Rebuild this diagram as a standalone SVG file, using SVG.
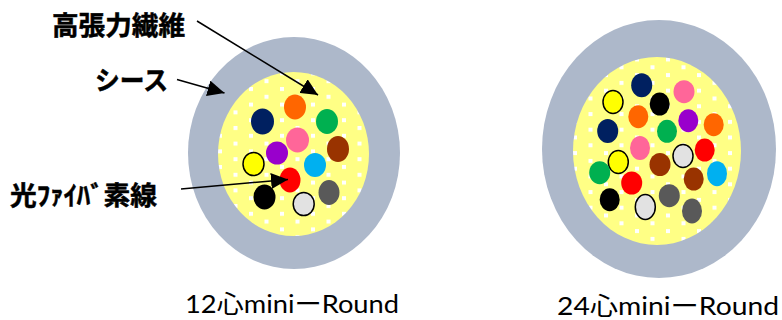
<svg xmlns="http://www.w3.org/2000/svg" width="782" height="320" viewBox="0 0 782 320">
<style>
.sheath{fill:#adb8ca}
.lbl{font-family:"Noto Sans CJK JP","Noto Sans",sans-serif;font-weight:700;font-size:26.5px;fill:#000;stroke:#000;stroke-width:.5}
.cap{font-family:Lato,"Noto Sans CJK JP",sans-serif;font-size:25.5px;fill:#000}
.ln{stroke:#000;stroke-width:1.5;fill:none;marker-end:url(#ah)}
.o{stroke:#000;stroke-width:1.5}
</style>
<defs>
<marker id="ah" markerUnits="userSpaceOnUse" markerWidth="17" markerHeight="16" refX="17" refY="8" orient="auto"><path d="M0 0L17 8L0 16Z" fill="#000"/></marker>
<pattern id="d1" patternUnits="userSpaceOnUse" x="280" y="87" width="31" height="15.6"><rect width="31" height="15.6" fill="#ffff85"/><rect width="4" height="4" fill="#fff"/><rect x="15.5" y="7.8" width="4" height="4" fill="#fff"/></pattern>
<pattern id="d2" patternUnits="userSpaceOnUse" x="666" y="57.5" width="31" height="15.6"><rect width="31" height="15.6" fill="#ffff85"/><rect width="4" height="4" fill="#fff"/><rect x="15.5" y="7.8" width="4" height="4" fill="#fff"/></pattern>
</defs>
<g id="cable-12">
<ellipse class="sheath" cx="294" cy="153" rx="106" ry="116"/>
<ellipse cx="293.5" cy="154" rx="75.5" ry="82" fill="url(#d1)"/>
<ellipse cx="295" cy="107" rx="11" ry="12.5" fill="#ff6600"/>
<ellipse cx="262.5" cy="121.5" rx="11.5" ry="13" fill="#002060"/>
<ellipse cx="327" cy="121.5" rx="11" ry="12.5" fill="#00b050"/>
<ellipse cx="297.5" cy="140" rx="11.5" ry="12.5" fill="#ff6699"/>
<ellipse cx="338" cy="149" rx="11" ry="13" fill="#993300"/>
<ellipse cx="277" cy="153" rx="11" ry="11.5" fill="#9900cc"/>
<ellipse class="o" cx="253.5" cy="164" rx="10.5" ry="11.5" fill="#ffff00"/>
<ellipse cx="315" cy="165" rx="11" ry="12" fill="#00b0f0"/>
<ellipse cx="290" cy="180" rx="10.5" ry="12.5" fill="#ff0000"/>
<ellipse cx="264.5" cy="197" rx="11" ry="12.5" fill="#000"/>
<ellipse class="o" cx="303.7" cy="204" rx="10.5" ry="11.5" fill="#e2e2e2"/>
<ellipse cx="329" cy="192.5" rx="10.5" ry="12.5" fill="#595959"/>
</g>
<g id="cable-24">
<ellipse class="sheath" cx="659" cy="149" rx="117" ry="129"/>
<ellipse cx="657" cy="151" rx="84" ry="94" fill="url(#d2)"/>
<ellipse cx="641.7" cy="85.3" rx="10.5" ry="12" fill="#002060"/>
<ellipse cx="684" cy="91.7" rx="10.5" ry="11.5" fill="#ff6699"/>
<ellipse class="o" cx="613" cy="102" rx="10" ry="11.5" fill="#ffff00"/>
<ellipse cx="659.7" cy="104" rx="10" ry="11.5" fill="#000"/>
<ellipse cx="638.3" cy="116.7" rx="10" ry="11.5" fill="#ff6600"/>
<ellipse cx="688.3" cy="120.7" rx="10" ry="11.5" fill="#9900cc"/>
<ellipse cx="713.7" cy="124.7" rx="10" ry="11.5" fill="#ff6600"/>
<ellipse cx="607.7" cy="131" rx="10.5" ry="12" fill="#002060"/>
<ellipse cx="667" cy="131.3" rx="10" ry="11.5" fill="#00b050"/>
<ellipse cx="640" cy="148" rx="10" ry="12" fill="#ff6699"/>
<ellipse cx="704.7" cy="150" rx="10" ry="11.5" fill="#ff0000"/>
<ellipse cx="660" cy="164.5" rx="10.5" ry="11.5" fill="#993300"/>
<ellipse class="o" cx="683" cy="156" rx="10" ry="11.5" fill="#e2e2e2"/>
<ellipse class="o" cx="618.3" cy="162" rx="10" ry="11.5" fill="#ffff00"/>
<ellipse cx="599.7" cy="172.7" rx="10.5" ry="11.5" fill="#00b050"/>
<ellipse cx="693.7" cy="179" rx="10" ry="11.5" fill="#993300"/>
<ellipse cx="717" cy="173.7" rx="10" ry="12.5" fill="#00b0f0"/>
<ellipse cx="631.7" cy="183" rx="10.5" ry="11.5" fill="#ff0000"/>
<ellipse cx="669.3" cy="195.7" rx="10.5" ry="11.5" fill="#595959"/>
<ellipse cx="609.7" cy="199.7" rx="10" ry="11.5" fill="#000"/>
<ellipse class="o" cx="645.3" cy="207" rx="10" ry="12.5" fill="#e2e2e2"/>
<ellipse cx="692" cy="211" rx="10" ry="12.5" fill="#595959"/>
</g>
<g id="connectors">
<line class="ln" x1="197" y1="21" x2="318" y2="95"/>
<line class="ln" x1="177" y1="79.5" x2="224.5" y2="93"/>
<line class="ln" x1="181" y1="189" x2="288" y2="179.5"/>
</g>
<g id="labels">
<text class="lbl" x="52" y="35" textLength="133" lengthAdjust="spacingAndGlyphs">高張力繊維</text>
<text class="lbl" x="95" y="90" textLength="73" lengthAdjust="spacingAndGlyphs">シース</text>
<text class="lbl" x="10" y="205" textLength="147" lengthAdjust="spacingAndGlyphs">光ﾌｧｲﾊﾞ素線</text>
<text class="cap" x="185" y="313" textLength="214" lengthAdjust="spacingAndGlyphs">12心miniーRound</text>
<text class="cap" x="557" y="314.5" textLength="222" lengthAdjust="spacingAndGlyphs">24心miniーRound</text>
</g>
</svg>
